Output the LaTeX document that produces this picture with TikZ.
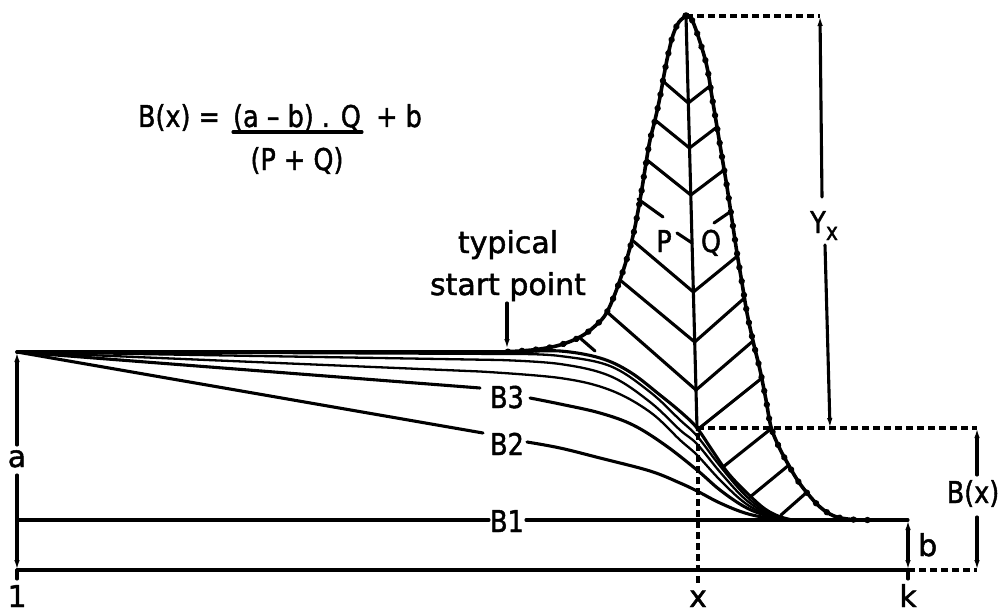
\documentclass[tikz,border=0pt]{standalone}
\usepackage{fontspec}
\usepackage{graphicx}
\setmainfont{DejaVu Sans}
\newfontfamily\lettr{DejaVu Sans}[FakeBold=1.6]
\usetikzlibrary{arrows.meta,decorations.markings}
\newcommand{\nrw}[1]{\scalebox{0.85}[1]{#1}}
\begin{document}
\begin{tikzpicture}[x=1pt,y=-1pt,
  ln/.style={line width=3.1pt,line cap=round,line join=round},
  thn/.style={line width=2.3pt,line cap=round,line join=round},
  bellst/.style={line width=3.6pt,line cap=round,line join=round,
     postaction={decorate},
     decoration={markings,mark=between positions 8pt and -4pt step 14pt with {\fill (0,0) circle (3.2pt);}}},
  dsh/.style={line width=3.1pt,dash pattern=on 7pt off 4pt},
  tip/.style={-{Latex[length=10pt,width=5.5pt]}},
  dtip/.style={{Latex[length=10pt,width=5.5pt]}-{Latex[length=10pt,width=5.5pt]}},
  lbl/.style={inner sep=0pt,font=\lettr\fontsize{30}{36}\selectfont},
  sub/.style={inner sep=0pt,font=\lettr\fontsize{24}{28}\selectfont},
]
\path[use as bounding box] (0,0) rectangle (1006,615);

% key points
\coordinate (A) at (17,352);
\coordinate (Pk) at (686,16);
\coordinate (X0) at (697,428);

% formula
\node[lbl,anchor=base] (fB) at (179,127) {\nrw{B(x) =}};
\node[lbl,anchor=base] (fN) at (297,127) {\nrw{(a – b) . Q}};
\node[lbl,anchor=base] (fD) at (297,170) {\nrw{(P + Q)}};
\node[lbl,anchor=base] (fb) at (399,127) {\nrw{+ b}};
\draw[ln] (233,132) -- (362,132);

% labels
\node[lbl,anchor=base] (t1) at (508,253) {typical};
\node[lbl,anchor=base] (t2) at (508,295) {start point};
\node[lbl,anchor=base] (lP) at (664,252) {\nrw{P}};
\node[lbl,anchor=base] (lQ) at (711,252) {\nrw{Q}};
\node[lbl,anchor=base] (lY) at (818,233) {\nrw{Y}};
\node[sub,anchor=base] (lYx) at (832,240) {\nrw{x}};
\node[lbl,anchor=base] (B3) at (507,408) {\nrw{B3}};
\node[lbl,anchor=base] (B2) at (507,455) {\nrw{B2}};
\node[lbl,anchor=base] (B1) at (507,532) {\nrw{B1}};
\node[lbl,anchor=base] (la) at (17,467) {a};
\node[lbl,anchor=base west] (lb) at (918,556) {b};
\node[lbl,anchor=base] (lBx) at (973,503) {\nrw{B(x)}};
\node[lbl,anchor=base] (l1) at (17,607) {1};
\node[lbl,anchor=base] (lx) at (698,607) {x};
\node[lbl,anchor=base] (lk) at (908,607) {k};

% base lines
\draw[ln] (17,570) -- (908,570);
\draw[ln] (17,520) -- (489,520);
\draw[ln] (526,520) -- (908,520);

% family of curves
\draw[ln] (A) -- (520,352) -- plot[smooth,tension=0.6] coordinates {(520,352) (560,351) (600,358) (630,372) (660,395) (683,414) (697,428) (712,450) (728,473) (748,494) (768,511) (790,519.5) (812,520)};
\draw[thn] (A) -- (520,354) -- plot[smooth,tension=0.6] coordinates {(520,354) (560,356) (610,366) (650,392) (680,420) (697,436) (720,466) (745,495) (768,513) (790,520)};
\draw[thn] (A) -- (500,360) -- plot[smooth,tension=0.6] coordinates {(500,360) (560,364) (610,376) (650,402) (680,430) (697,444) (720,472) (745,499) (768,514) (790,520)};
\draw[thn] (A) -- (480,371.5) -- plot[smooth,tension=0.6] coordinates {(480,371.5) (560,378) (610,390) (650,412) (680,440) (697,455) (720,480) (745,503) (768,515) (790,520)};
\draw[ln] (A) -- (480,388);
\draw[ln] plot[smooth,tension=0.6] coordinates {(530,398) (560,404) (600,413) (633,425) (665,445) (697,470) (720,490) (745,507) (768,516) (790,520)};
\draw[ln] (A) -- (483,433);
\draw[ln] plot[smooth,tension=0.6] coordinates {(527,442) (560,448) (600,458) (650,471) (680,483) (697,491) (720,503) (745,513) (768,518) (790,520)};

% top line and bell
\draw[line width=3.6pt,line cap=round] (A) -- (500,352);
\draw[bellst] plot[smooth,tension=0.6] coordinates {(500,352) (520,351) (540,349) (560,345) (580,337) (595,326) (607,312) (620,280) (632,240) (640,200) (646,163) (650,140) (655,120) (660,97) (664,75) (668,55) (673,35) (679,22) (686,16)};
\draw[bellst] plot[smooth,tension=0.6] coordinates {(686,16) (692,20) (700,42) (707,67) (712,97) (717,127) (722,157) (727,187) (732,220) (737,253) (742,283) (747,313) (753,341) (760,370) (766,400) (771,427) (779,447) (788,464) (798,481) (808,494) (820,507) (834,516) (852,519.5) (875,520)};
\draw[line width=3.6pt] (875,520) -- (908,520);
\fill (Pk) circle (3.8pt);

% spine
\draw[ln] (Pk) -- (X0);

% hatching: left arms
\draw[ln] (665,83) -- (688.3,103);
\draw[ln] (655,120) -- (689.5,148);
\draw[ln] (647,160) -- (690.8,195);
\draw[ln] (638,199) -- (663,217);
\draw[ln] (677,233) -- (692.1,243);
\draw[ln] (632,240) -- (693.4,292);
\draw[ln] (620,280) -- (694.7,342);
\draw[ln] (607,312) -- (696,390);
\draw[ln] (580,338) -- (595,351);
% right arms
\draw[ln] (688.3,103) -- (710,86);
\draw[ln] (689.5,148) -- (717,127);
\draw[ln] (690.8,195) -- (724,170);
\draw[ln] (714,223) -- (730,212);
\draw[ln] (693.4,292) -- (737.5,256);
\draw[ln] (694.7,342) -- (744.5,298);
\draw[ln] (696,390) -- (753,341);
\draw[ln] (697,430) -- (762,378);
\draw[ln] (723,467) -- (772,428);
\draw[ln] (750,497) -- (789,465);
\draw[ln] (781,515) -- (806,493);

% typical start point arrow
\coordinate (tsp) at (507,349);
\draw[ln,tip] (507,303) -- (tsp);

% dimensions
\draw[dsh] (Pk) -- (820,16);
\draw[ln,tip] (822,197) -- (820,16);
\draw[ln,tip] (825,245) -- (830,428);
\draw[dsh] (X0) -- (977,428);
\draw[dsh] (908,570) -- (977,570);
\draw[dsh] (698,433) -- (698,584);
\draw[ln,tip] (977,475) -- (977,428);
\draw[ln,tip] (977,517) -- (977,570);
\draw[ln,dtip] (908,520) -- (908,570);
\draw[ln] (908,570) -- (908,579);
\draw[ln,tip] (17,445) -- (A);
\draw[ln,tip] (17,475) -- (17,570);
\draw[ln] (17,570) -- (17,579);
\end{tikzpicture}
\end{document}
